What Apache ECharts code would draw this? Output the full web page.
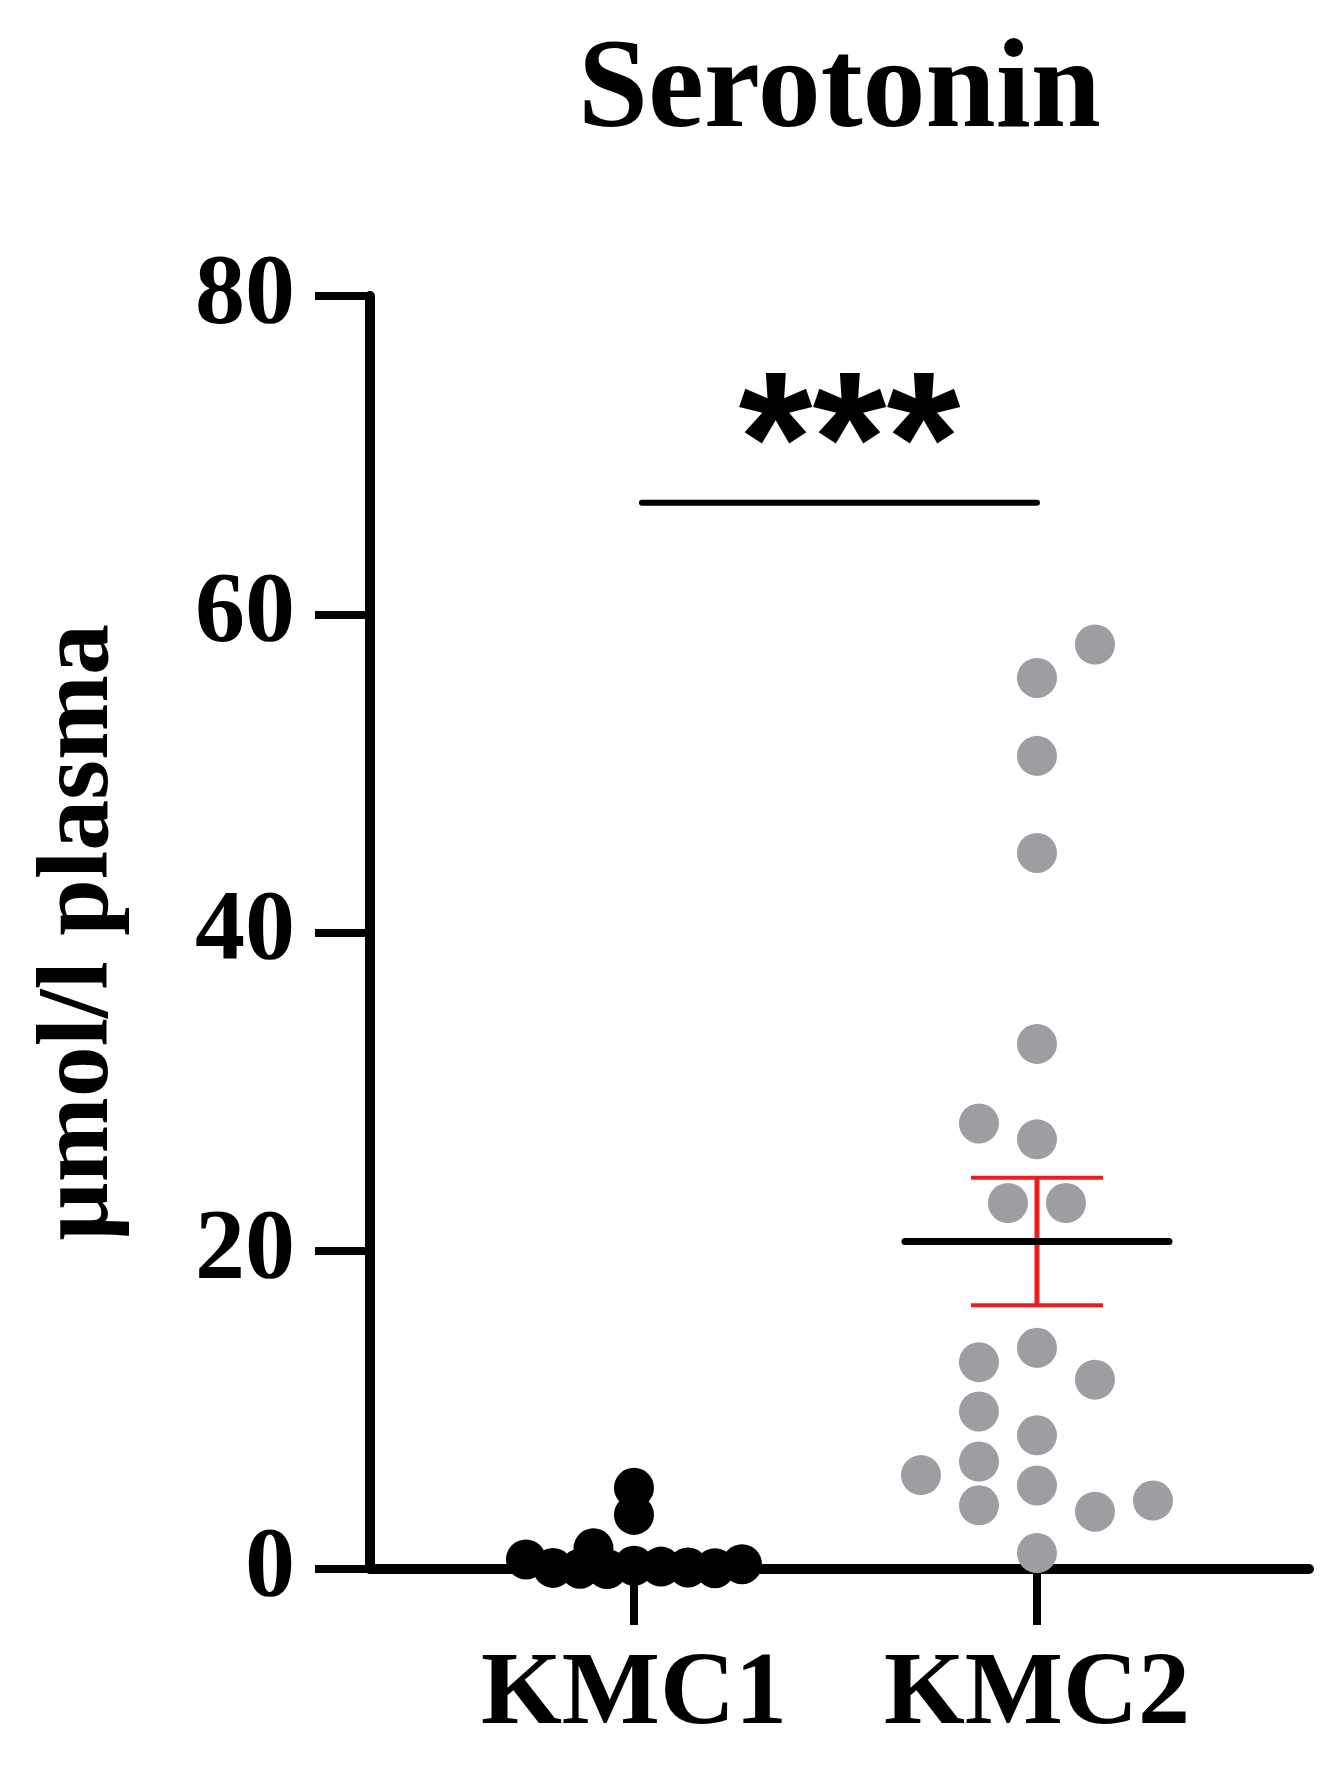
<!DOCTYPE html>
<html><head><meta charset="utf-8">
<script src="https://cdn.jsdelivr.net/npm/echarts@6/dist/echarts.min.js"></script>
<style>html,body{margin:0;padding:0;background:#fff}#chart{width:1335px;height:1770px}</style>
</head><body><div id="chart"></div>
<script>
// ---- data ----
const categories = ['KMC1', 'KMC2'];
const kmc1Values = [0.2, 0.15, 0.0, 0.1, 0.02, 0.05, 0.07, 0.3, 0.6, 1.3, 3.4, 5.1];
const kmc2Values = [56.0, 58.1, 51.1, 45.0, 33.0, 27.0, 28.0, 23.0, 23.0, 13.9, 11.9, 13.0, 8.4, 9.9, 6.75, 1.0, 5.25, 4.0, 3.6, 5.9, 4.3];
const yTicks = [0, 20, 40, 60, 80];
const titleText = 'Serotonin';
const yAxisName = 'µmol/l plasma';
const sigFrom = 1, sigTo = 2, sigLevel = 67, sigText = '***';

// ---- styles / layout ----
const SERIF = '"Liberation Serif", "Times New Roman", serif';
const groupColors = ['#000000', '#9d9da2'];
const errorColor = '#ee1c1c';
const swarmLayout = [{step: 27, gap: 26, maxK: 4}, {step: 58, gap: 42, maxK: 4}];

const chart = echarts.init(document.getElementById('chart'), null, {renderer: 'canvas'});

chart.setOption({
  animation: false,
  backgroundColor: '#ffffff',
  title: {
    text: titleText, left: 578, top: 30, padding: 0,
    textStyle: {fontFamily: SERIF, fontWeight: 'bold', fontSize: 126, color: '#000'}
  },
  grid: {left: 370, right: 26, top: 296, bottom: 201},
  xAxis: {
    type: 'value', min: 0.345, max: 2.675,
    axisLine: {show: true, onZero: false, lineStyle: {color: '#000', width: 10}},
    axisTick: {show: true, customValues: [1, 2], length: 56, lineStyle: {color: '#000', width: 8}},
    axisLabel: {customValues: [1, 2], formatter: v => categories[Math.round(v) - 1] || '',
      margin: 75, fontFamily: SERIF, fontWeight: 'bold', fontSize: 104, color: '#000'},
    splitLine: {show: false}
  },
  yAxis: {
    type: 'value', min: yTicks[0], max: yTicks[yTicks.length - 1], interval: yTicks[1] - yTicks[0],
    name: yAxisName, nameLocation: 'middle', nameRotate: 90, nameGap: 238,
    nameTextStyle: {fontFamily: SERIF, fontWeight: 'bold', fontSize: 102, color: '#000'},
    axisLine: {show: true, lineStyle: {color: '#000', width: 10}},
    axisTick: {show: true, length: 55, lineStyle: {color: '#000', width: 8}},
    axisLabel: {margin: 75, fontFamily: SERIF, fontWeight: 'bold', fontSize: 100, color: '#000'},
    splitLine: {show: false}
  },
  series: []
});

// pixel scale taken from the library's own axes
let pxPerX = 403, pxPerY = (1770 - 296 - 201) / 80;
try {
  const a = chart.convertToPixel({gridIndex: 0}, [1, 0]);
  const b = chart.convertToPixel({gridIndex: 0}, [2, 1]);
  if (a && b && isFinite(b[0] - a[0]) && isFinite(a[1] - b[1])) { pxPerX = b[0] - a[0]; pxPerY = a[1] - b[1]; }
} catch (e) {}

// beeswarm: each point takes the nearest free column slot (ties of equal value spread symmetrically)
function swarmOffsets(vals, cfg, pxY) {
  const placed = [];
  const dx = new Array(vals.length).fill(0);
  const done = new Array(vals.length).fill(false);
  const nearest = (x, y) => { let d = Infinity; for (const p of placed) d = Math.min(d, Math.hypot(p.x - x, p.y - y)); return d; };
  for (let i = 0; i < vals.length; i++) {
    if (done[i]) continue;
    const y = vals[i] * pxY;
    const ties = [];
    for (let j = i; j < vals.length; j++) if (!done[j] && vals[j] === vals[i]) ties.push(j);
    if (ties.length > 1) {
      ties.forEach((j, g) => { const x = (g - (ties.length - 1) / 2) * cfg.step; dx[j] = x; placed.push({x, y}); done[j] = true; });
      continue;
    }
    let chosen = null;
    for (let k = 0; k <= cfg.maxK && chosen === null; k++) {
      const cands = k === 0 ? [0] : [k * cfg.step, -k * cfg.step];
      const free = cands.filter(x => nearest(x, y) >= cfg.gap);
      if (free.length === 1) chosen = free[0];
      else if (free.length === 2) {
        const dr = Math.round(nearest(free[0], y) / 4), dl = Math.round(nearest(free[1], y) / 4);
        if (dr !== dl) chosen = dr < dl ? free[0] : free[1];
        else {
          const nl = placed.filter(p => p.x < 0).length, nr = placed.filter(p => p.x > 0).length;
          chosen = nl < nr ? free[1] : free[0];
        }
      }
    }
    if (chosen === null) {
      let best = -Infinity;
      for (let h = -2 * cfg.maxK; h <= 2 * cfg.maxK; h++) {
        const x = h * cfg.step / 2; const d = nearest(x, y);
        if (d > best + 1e-6) { best = d; chosen = x; }
      }
    }
    dx[i] = chosen; placed.push({x: chosen, y}); done[i] = true;
  }
  return dx;
}

const groups = [kmc1Values, kmc2Values];
const series = [];
groups.forEach((vals, gi) => {
  const offs = swarmOffsets(vals, swarmLayout[gi], pxPerY);
  series.push({
    type: 'scatter', name: categories[gi], symbol: 'circle', symbolSize: 40, silent: true, z: 3,
    itemStyle: {color: groupColors[gi], opacity: 1},
    data: vals.map((v, i) => [gi + 1 + offs[i] / pxPerX, v])
  });
});

// mean ± SEM of KMC2 (KMC1's is hidden beneath its dots in the original)
const n2 = kmc2Values.length;
const mean2 = kmc2Values.reduce((s, v) => s + v, 0) / n2;
const sem2 = Math.sqrt(kmc2Values.reduce((s, v) => s + (v - mean2) * (v - mean2), 0) / (n2 - 1)) / Math.sqrt(n2);
series.push({
  type: 'custom', silent: true, z: 5, data: [[2, mean2, sem2]],
  renderItem: (params, api) => {
    const x = api.value(0), m = api.value(1), s = api.value(2);
    const c = api.coord([x, m]), t = api.coord([x, m + s]), b = api.coord([x, m - s]);
    return {type: 'group', children: [
      {type: 'line', shape: {x1: t[0], y1: t[1], x2: b[0], y2: b[1]}, style: {stroke: errorColor, lineWidth: 5}},
      {type: 'line', shape: {x1: t[0] - 66, y1: t[1], x2: t[0] + 66, y2: t[1]}, style: {stroke: errorColor, lineWidth: 4}},
      {type: 'line', shape: {x1: b[0] - 66, y1: b[1], x2: b[0] + 66, y2: b[1]}, style: {stroke: errorColor, lineWidth: 4}},
      {type: 'line', shape: {x1: c[0] - 132, y1: c[1], x2: c[0] + 132, y2: c[1]}, style: {stroke: '#000', lineWidth: 7, lineCap: 'round'}}
    ]};
  }
});

// significance bar with asterisks
series.push({
  type: 'custom', silent: true, z: 5, data: [[sigFrom, sigLevel, sigTo]],
  renderItem: (params, api) => {
    const a = api.coord([api.value(0), api.value(1)]);
    const b = api.coord([api.value(2), api.value(1)]);
    return {type: 'group', children: [
      {type: 'line', shape: {x1: a[0] + 8, y1: a[1], x2: b[0], y2: b[1]}, style: {stroke: '#000', lineWidth: 6, lineCap: 'round'}},
      {type: 'text', style: {text: sigText, x: (a[0] + b[0]) / 2 + 14, y: a[1] - 52, align: 'center', verticalAlign: 'middle',
        fontFamily: '"Liberation Sans", Arial, sans-serif', fontWeight: 'bold', fontSize: 190, fill: '#000'}}
    ]};
  }
});

chart.setOption({series: series});
</script>
</body></html>
